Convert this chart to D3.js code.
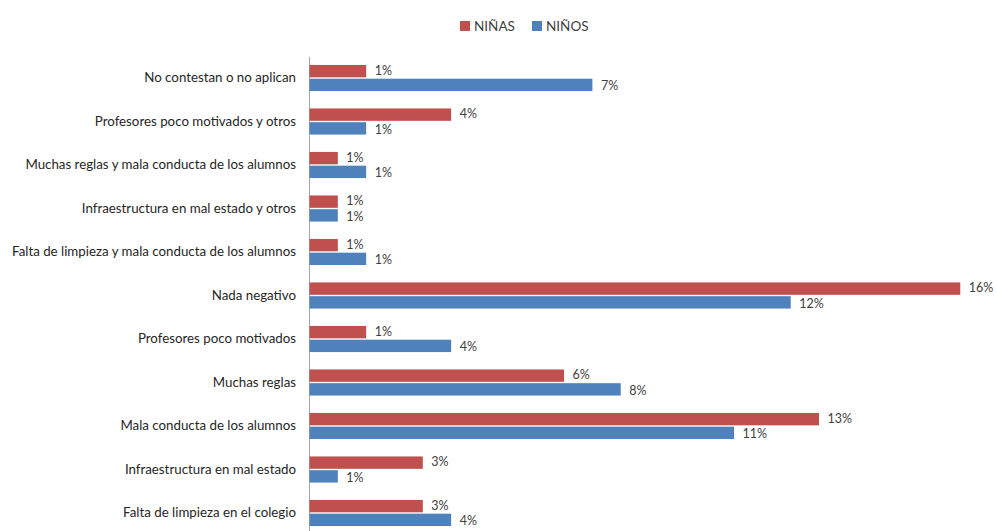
<!DOCTYPE html>
<html>
<head>
<meta charset="utf-8">
<script src="https://cdn.jsdelivr.net/npm/d3@7"></script>
<style>
  html, body { margin: 0; padding: 0; background: #ffffff; }
  svg { display: block; }
</style>
</head>
<body>
<svg id="chart" width="997" height="531"></svg>
<script>
// Categories, top to bottom
const categories = [
  "No contestan o no aplican",
  "Profesores poco motivados y otros",
  "Muchas reglas y mala conducta de los alumnos",
  "Infraestructura en mal estado y otros",
  "Falta de limpieza y mala conducta de los alumnos",
  "Nada negativo",
  "Profesores poco motivados",
  "Muchas reglas",
  "Mala conducta de los alumnos",
  "Infraestructura en mal estado",
  "Falta de limpieza en el colegio"
];

// Series names
const seriesNames = ["NIÑAS", "NIÑOS"];

// Percentages per category (share of all respondents)
const ninas = [1.42, 3.55, 0.71, 0.71, 0.71, 16.31, 1.42, 6.38, 12.77, 2.84, 2.84];
const ninos = [7.09, 1.42, 1.42, 0.71, 1.42, 12.06, 3.55, 7.80, 10.64, 0.71, 3.55];

const colors = { "NIÑAS": "#C0504D", "NIÑOS": "#4F81BD" };

const data = categories.map((c, i) => ({
  category: c,
  values: [
    { series: "NIÑAS", value: ninas[i] },
    { series: "NIÑOS", value: ninos[i] }
  ]
}));

const svg = d3.select("#chart");
const font = "Lato, 'Open Sans', sans-serif";

const x = d3.scaleLinear().domain([0, 17.2]).range([309, 309 + 17.2 * 39.9]);
const y = d3.scaleBand().domain(categories).range([56.25, 534.75]).padding(0);
const ySub = d3.scaleBand()
  .domain(seriesNames)
  .range([y.bandwidth() * 0.2, y.bandwidth() * 0.8])
  .paddingInner(0.1);

// Category axis
const yAxis = svg.append("g")
  .attr("transform", `translate(${x(0)},0)`)
  .call(d3.axisLeft(y).tickSize(0).tickPadding(13));
yAxis.select(".domain").attr("stroke", "#a6a6a6").attr("stroke-width", 1);
yAxis.selectAll("text")
  .attr("font-family", font)
  .attr("font-size", "13.3px")
  .attr("fill", "#262626");

// Bars
const groups = svg.append("g").selectAll("g")
  .data(data)
  .join("g")
  .attr("transform", d => `translate(0,${y(d.category)})`);

groups.selectAll("rect")
  .data(d => d.values)
  .join("rect")
  .attr("x", x(0) + 0.5)
  .attr("y", d => ySub(d.series))
  .attr("width", d => x(d.value) - x(0))
  .attr("height", ySub.bandwidth())
  .attr("fill", d => colors[d.series]);

// Value labels, nudged slightly apart so stacked pairs stay legible
const fmt = v => d3.format(".0f")(v) + "%";
const nudge = { "NIÑAS": -1, "NIÑOS": 1 };
groups.selectAll("text.val")
  .data(d => d.values)
  .join("text")
  .attr("class", "val")
  .attr("x", d => x(d.value) + 9)
  .attr("y", d => ySub(d.series) + ySub.bandwidth() / 2 + nudge[d.series])
  .attr("dy", "0.36em")
  .attr("font-family", font)
  .attr("font-size", "12.5px")
  .attr("fill", "#404040")
  .text(d => fmt(d.value));

// Legend
const legend = svg.append("g");
const legendX = [460, 532];
seriesNames.forEach((s, i) => {
  legend.append("rect")
    .attr("x", legendX[i])
    .attr("y", 21)
    .attr("width", 10)
    .attr("height", 10)
    .attr("fill", colors[s]);
  legend.append("text")
    .attr("x", legendX[i] + 14)
    .attr("y", 26)
    .attr("dy", "0.36em")
    .attr("font-family", font)
    .attr("font-size", "13.5px")
    .attr("fill", "#404040")
    .text(s);
});
</script>
</body>
</html>
